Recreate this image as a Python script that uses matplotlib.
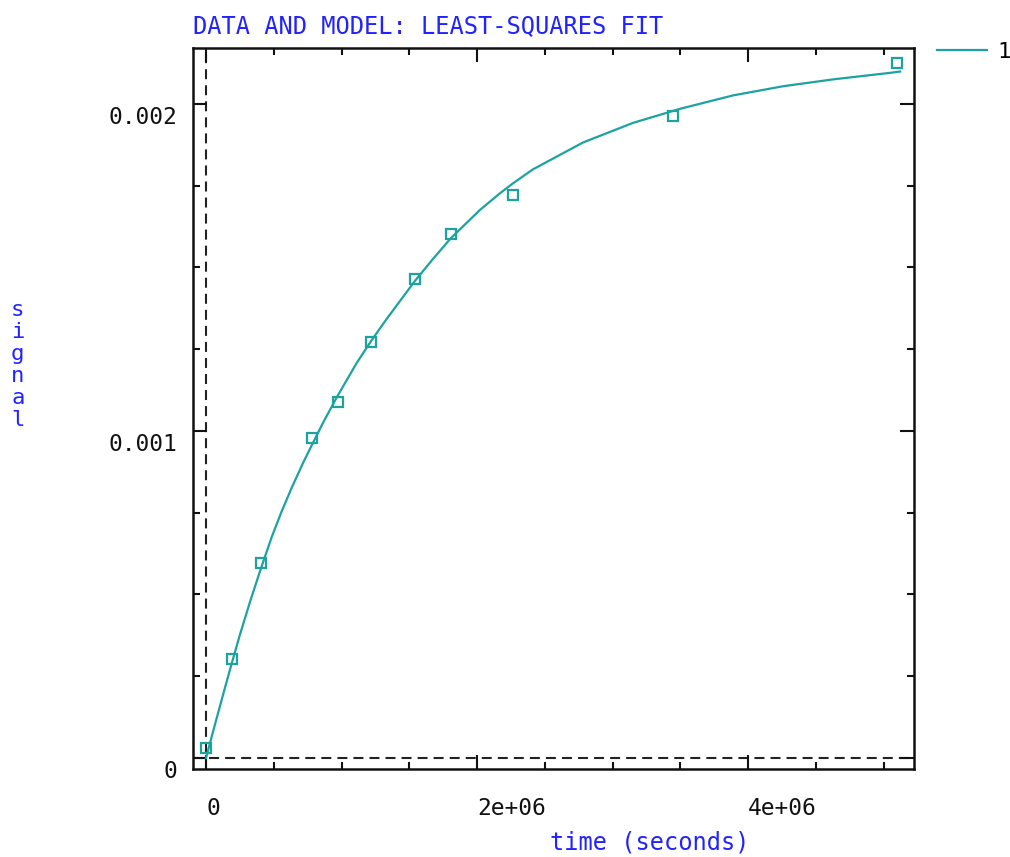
import numpy as np
import matplotlib
matplotlib.use("Agg")
import matplotlib.pyplot as plt
import matplotlib.transforms as mtransforms
from matplotlib.ticker import MultipleLocator, FixedLocator, FixedFormatter

# data points (time in seconds, signal)
t_data = [0.0, 0.190e6, 0.406e6, 0.780e6, 0.972e6, 1.218e6, 1.542e6,
          1.808e6, 2.268e6, 3.449e6, 5.097e6]
sig_data = [0.0297e-3, 0.302e-3, 0.595e-3, 0.978e-3, 1.090e-3, 1.271e-3,
            1.464e-3, 1.602e-3, 1.720e-3, 1.963e-3, 2.124e-3]

# least-squares model curve
t_fit = [0.0, 0.054e6, 0.128e6, 0.190e6, 0.251e6, 0.325e6, 0.399e6,
         0.485e6, 0.559e6, 0.632e6, 0.718e6, 0.780e6, 0.866e6, 0.965e6,
         1.112e6, 1.223e6, 1.334e6, 1.542e6, 1.677e6, 1.808e6, 2.022e6,
         2.170e6, 2.268e6, 2.413e6, 2.782e6, 3.151e6, 3.498e6, 3.889e6,
         4.258e6, 4.627e6, 5.048e6, 5.122e6]
sig_fit = [0.0, 0.084e-3, 0.197e-3, 0.290e-3, 0.378e-3, 0.478e-3, 0.572e-3,
           0.676e-3, 0.755e-3, 0.826e-3, 0.904e-3, 0.956e-3, 1.027e-3,
           1.103e-3, 1.208e-3, 1.278e-3, 1.343e-3, 1.459e-3, 1.527e-3,
           1.590e-3, 1.676e-3, 1.727e-3, 1.758e-3, 1.800e-3, 1.882e-3,
           1.942e-3, 1.985e-3, 2.026e-3, 2.054e-3, 2.075e-3, 2.095e-3,
           2.099e-3]

x_ticks = [0, 2e6, 4e6]
x_labels = ["0", "2e+06", "4e+06"]
y_ticks = [0, 0.001, 0.002]
y_labels = ["0", "0.001", "0.002"]

teal = "#1ca3a0"
blue = "#2222ff"
mono = "DejaVu Sans Mono"

fig = plt.figure(figsize=(10.10, 8.57), dpi=100)
ax = fig.add_axes([0.1911, 0.1027, 0.7139, 0.8413])

# dashed zero lines
ax.axhline(0, color="#222222", lw=1.5, dashes=(4.8, 2.9), zorder=1)
ax.axvline(0, color="#222222", lw=1.5, dashes=(4.8, 2.9), zorder=1)

ax.plot(t_fit, sig_fit, color=teal, lw=1.6, label="1", zorder=2)
ax.plot(t_data, sig_data, ls="none", marker="s", ms=7.8, mfc="none",
        mec=teal, mew=1.6, zorder=3)

ax.set_xlim(-0.096e6, 5.225e6)
ax.set_ylim(-3.36e-5, 2.171e-3)

ax.xaxis.set_major_locator(FixedLocator(x_ticks))
ax.xaxis.set_major_formatter(FixedFormatter(x_labels))
ax.xaxis.set_minor_locator(MultipleLocator(0.5e6))
ax.yaxis.set_major_locator(FixedLocator(y_ticks))
ax.yaxis.set_major_formatter(FixedFormatter(y_labels))
ax.yaxis.set_minor_locator(MultipleLocator(0.00025))

ax.tick_params(which="both", direction="in", top=True, right=True,
               width=1.5, colors="#111111")
ax.tick_params(which="major", length=10)
ax.tick_params(which="minor", length=5)
ax.tick_params(axis="x", pad=20)
ax.tick_params(axis="y", pad=11)
for s in ax.spines.values():
    s.set_linewidth(1.8)
    s.set_color("#111111")

off = mtransforms.ScaledTranslation(0, -11 / 100, fig.dpi_scale_trans)
for lab in ax.get_yticklabels():
    lab.set_fontfamily(mono)
    lab.set_fontsize(16.5)
    lab.set_transform(lab.get_transform() + off)
for lab in ax.get_xticklabels():
    lab.set_fontfamily(mono)
    lab.set_fontsize(16.5)
    lab.set_ha("left")

ax.set_title("DATA AND MODEL: LEAST-SQUARES FIT", loc="left", pad=11,
             color=blue, fontfamily=mono, fontsize=17)

ax.set_xlabel("time (seconds)", color=blue, fontfamily=mono, fontsize=17)
ax.xaxis.set_label_coords(0.634, -0.1026)
ax.xaxis.label.set_va("center")

ax.set_ylabel("s\ni\ng\nn\na\nl", rotation=0, color=blue, fontfamily=mono,
              fontsize=16, linespacing=1.12)
ax.yaxis.set_label_coords(-0.243, 0.56)
ax.yaxis.label.set_va("center")
ax.yaxis.label.set_ha("center")

leg = ax.legend(loc="upper left", bbox_to_anchor=(1.032, 1.008), frameon=False,
                borderpad=0, borderaxespad=0, handlelength=2.25,
                handletextpad=0.45, prop={"family": mono, "size": 16})

fig.savefig("out.png", dpi=100)
